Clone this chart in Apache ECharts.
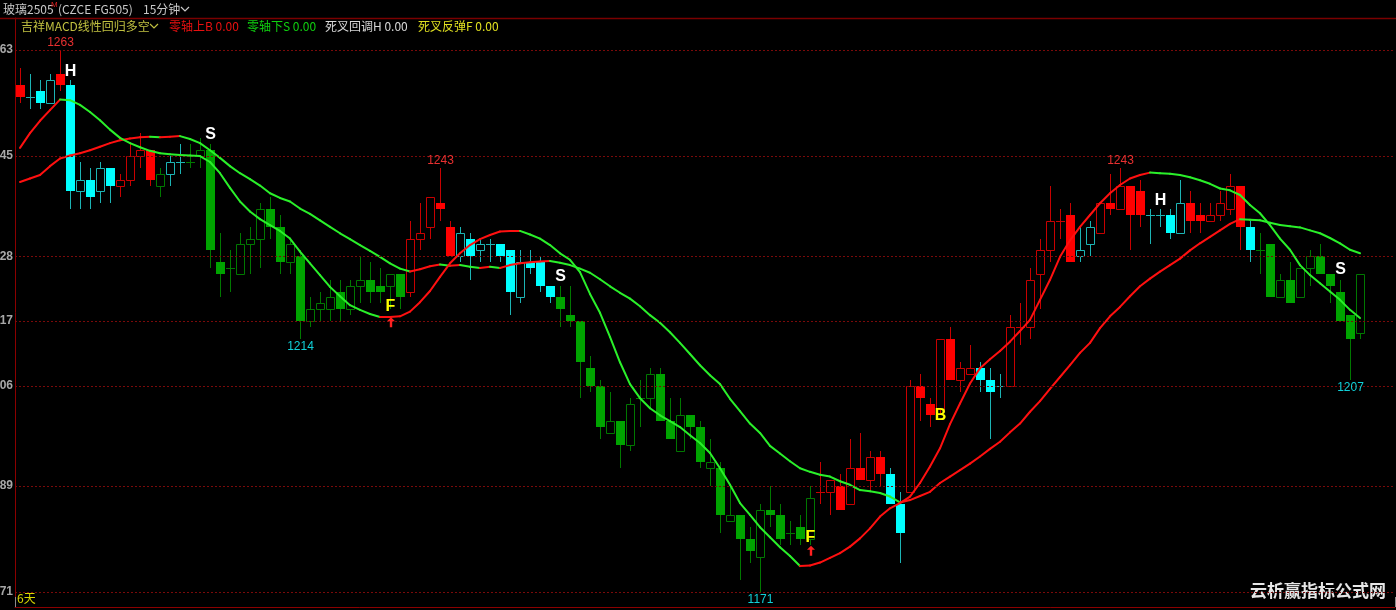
<!DOCTYPE html>
<html><head><meta charset="utf-8">
<script src="https://cdn.jsdelivr.net/npm/echarts@6/dist/echarts.min.js"></script>
<style>html,body{margin:0;padding:0;background:#000;overflow:hidden}#c{width:1396px;height:610px}</style>
</head><body><div id="c"></div>
<script>
// ---------- data ----------
const opens = [1257,1255,1256,1254,1259,1257,1239,1241,1239,1243,
1240,1241,1245,1246,1240,1242,1244,1244,1245,1246,
1227,1226,1225,1230,1231,1236,1233,1227,1228,1217,
1219,1219,1222,1219,1223,1224,1223,1223,1225,1222,
1231,1233,1237,1233,1228,1231,1229,1230,1230,1229,
1221,1227,1227,1223,1221,1218,1217,1209,1206,1198,
1200,1196,1204,1204,1208,1200,1195,1201,1199,1192,
1192,1183,1184,1180,1177,1185,1184,1181,1182,1180,
1188,1188,1189,1186,1192,1190,1194,1191,1186,1188,
1206,1203,1202,1214,1207,1208,1209,1207,1206,1206,
1216,1216,1225,1229,1234,1235,1228,1230,1232,1237,
1236,1240,1239,1235,1235,1235,1232,1237,1235,1234,
1235,1236,1240,1233,1229,1230,1221,1224,1221,1226,
1228,1225,1222,1218,1215];
const closes = [1255,1255,1254,1258,1257,1239,1241,1238,1243,1240,
1241,1245,1246,1241,1242,1244,1244,1244,1246,1229,
1225,1226,1230,1231,1236,1233,1227,1230,1217,1219,
1220,1221,1219,1223,1224,1222,1222,1225,1221,1231,
1232,1238,1236,1228,1232,1228,1230,1230,1228,1222,
1227,1226,1223,1221,1219,1217,1210,1206,1199,1200,
1196,1203,1204,1208,1200,1197,1201,1199,1193,1193,
1184,1184,1180,1178,1185,1184,1180,1181,1180,1187,
1188,1190,1185,1192,1190,1194,1191,1186,1181,1206,
1204,1201,1214,1207,1209,1209,1207,1205,1206,1216,
1216,1224,1229,1234,1234,1227,1229,1233,1237,1236,
1240,1235,1235,1235,1235,1232,1237,1234,1234,1235,
1237,1240,1233,1229,1229,1221,1224,1220,1226,1228,
1225,1223,1217,1214,1225];
const lows = [1254,1253,1253,1254,1256,1236,1236,1236,1237,1237,
1238,1240,1243,1240,1238,1240,1242,1243,1243,1226,
1221,1222,1225,1225,1226,1231,1225,1225,1214,1216,
1217,1217,1217,1218,1220,1220,1220,1219,1219,1221,
1229,1231,1234,1228,1227,1224,1227,1227,1227,1218,
1220,1225,1222,1220,1216,1216,1204,1205,1197,1198,
1192,1195,1199,1202,1200,1197,1195,1197,1192,1189,
1181,1183,1173,1176,1171,1182,1179,1179,1179,1179,
1186,1184,1185,1186,1190,1188,1189,1186,1176,1188,
1200,1199,1201,1207,1205,1208,1205,1197,1204,1206,
1213,1214,1219,1227,1231,1227,1227,1228,1232,1235,
1236,1229,1233,1230,1233,1231,1232,1232,1232,1234,
1234,1235,1229,1227,1225,1221,1221,1220,1221,1223,
1225,1220,1217,1207,1214];
const highs = [1260,1259,1258,1259,1263,1258,1244,1243,1244,1243,
1242,1247,1249,1246,1243,1245,1247,1247,1248,1247,
1232,1229,1232,1233,1237,1238,1235,1231,1229,1221,
1222,1224,1224,1224,1228,1227,1226,1225,1225,1234,
1237,1238,1243,1234,1233,1232,1231,1231,1230,1229,
1229,1229,1228,1223,1223,1223,1217,1211,1207,1205,
1200,1204,1207,1209,1209,1204,1204,1201,1200,1197,
1193,1189,1184,1182,1186,1189,1186,1183,1184,1189,
1193,1190,1191,1197,1198,1195,1195,1192,1188,1207,
1208,1204,1214,1216,1210,1213,1210,1209,1208,1218,
1220,1226,1231,1240,1236,1237,1233,1234,1237,1242,
1243,1240,1241,1236,1236,1236,1241,1239,1237,1237,
1239,1242,1240,1234,1232,1230,1225,1227,1226,1229,
1230,1225,1224,1218,1225];
// indicator state of each bar: r = above zero, c = pullback, g = below zero
const candleGroups = ['r','c','c','c','r','c','c','c','c','c',
'r','r','r','r','g','c','c','g','g','g',
'g','g','g','g','g','g','g','g','g','g',
'g','g','g','g','g','g','g','g','g','r',
'r','r','r','r','c','c','c','c','c','c',
'c','c','c','c','g','g','g','g','g','g',
'g','g','g','g','g','g','g','g','g','g',
'g','g','g','g','g','g','g','g','g','g',
'r','r','r','r','r','r','r','c','c','r',
'r','r','r','r','r','r','c','c','c','r',
'r','r','r','r','r','r','c','c','r','r',
'r','r','r','c','c','c','c','r','r','r',
'r','r','r','c','g','g','g','g','g','g',
'g','g','g','g','g'];
const fastLine = [1246.4,1248.9,1251.0,1252.8,1254.6,1254.5,1253.7,1252.5,1251.1,1249.5,
1248.1,1247.2,1246.5,1245.9,1245.5,1245.3,1245.2,1245.1,1245.0,1244.0,
1242.1,1239.6,1237.3,1235.6,1234.3,1233.3,1232.3,1231.0,1228.8,1226.8,
1224.8,1222.8,1221.2,1219.7,1218.9,1218.2,1217.7,1217.7,1217.8,1218.6,
1220.2,1222.1,1224.5,1226.8,1228.5,1229.9,1230.9,1231.6,1232.2,1232.3,
1232.3,1231.7,1231.0,1229.9,1228.5,1227.4,1225.3,1221.6,1218.4,1214.3,
1210.0,1206.3,1203.9,1202.2,1201.0,1200.0,1199.0,1197.6,1196.3,1194.6,
1192.0,1189.2,1186.1,1184.1,1182.0,1180.3,1178.6,1177.1,1175.4,1175.5,
1176.0,1176.8,1177.6,1178.7,1180.1,1181.8,1183.8,1185.2,1186.1,1187.2,
1189.5,1192.3,1195.4,1199.5,1203.0,1206.4,1209.0,1210.5,1211.9,1213.5,
1215.3,1217.2,1220.6,1224.0,1227.9,1230.7,1233.0,1235.0,1237.0,1238.7,
1240.1,1241.2,1241.8,1242.2,1242.1,1242.0,1241.8,1241.4,1240.9,1240.3,
1239.5,1239.2,1238.4,1236.7,1235.3,1233.3,1231.0,1229.1,1226.5,1224.8,
1223.4,1222.0,1220.6,1218.9,1217.5];
const slowLine = [1240.6,1241.2,1241.8,1243.3,1244.6,1245.1,1245.5,1246.0,1246.6,1247.2,
1247.7,1248.0,1248.2,1248.3,1248.2,1248.3,1248.4,1247.9,1247.2,1246.0,
1244.7,1243.3,1242.1,1241.1,1240.0,1238.7,1237.9,1237.3,1236.1,1235.2,
1234.1,1233.0,1231.9,1230.9,1229.9,1228.9,1227.9,1226.8,1225.9,1225.4,
1225.8,1226.3,1226.6,1226.4,1226.5,1226.2,1226.0,1226.2,1226.0,1226.5,
1226.8,1227.0,1227.1,1227.2,1226.9,1226.5,1225.9,1225.2,1224.1,1222.9,
1221.8,1220.8,1219.5,1218.0,1216.7,1215.1,1213.3,1211.4,1209.5,1207.8,
1206.3,1203.8,1201.7,1199.6,1198.0,1195.8,1194.5,1193.2,1192.0,1191.4,
1190.9,1190.6,1189.8,1189.2,1188.3,1188.1,1187.8,1187.2,1186.2,1186.6,
1187.3,1188.0,1189.5,1190.6,1191.7,1192.8,1194.0,1195.3,1196.5,1198.1,
1199.6,1201.6,1203.4,1205.5,1207.5,1209.5,1211.6,1213.3,1215.8,1217.8,
1219.4,1221.2,1222.9,1224.2,1225.4,1226.5,1227.6,1229.0,1230.2,1231.3,
1232.4,1233.5,1234.3,1234.2,1234.1,1233.7,1233.3,1233.1,1232.9,1232.4,
1231.9,1231.1,1230.2,1229.1,1228.5];
const gridValues = [1263,1245,1228,1217,1206,1189,1171];
const highLabelIdx = [4,42,110];
const lowLabelIdx = [28,74,133];
const signalIdx = [5,19,37,54,79,92,114,132];
const signalVal = [1259.3,1248.7,1219.5,1224.6,1180.3,1200.9,1237.5,1225.7];
const signalText = ['H','S','F','S','F','B','H','S'];
const arrowIdx = [37,79];
const arrowVal = [1216.8,1178.0];
const categories = Array.from({length: opens.length + 3}, (_, i) => String(i));

// ---------- styling ----------
const palette = {
  r: {fill:'#ff0000', line:'#c80000'},
  c: {fill:'#00ffff', line:'#1cb4b4'},
  g: {fill:'#00a400', line:'#007800'}
};
const signalColor = {H:'#ffffff', S:'#ffffff', F:'#ffff00', B:'#ffff00'};
const CJK = '"Noto Sans CJK SC", "Liberation Sans", sans-serif';
const LAT = '"Liberation Sans", Arial, sans-serif';

function renderCandle(params, api) {
  const i = api.value(0), o = api.value(1), c = api.value(2), l = api.value(3), h = api.value(4);
  const pal = palette[candleGroups[params.dataIndex]];
  const xp = Math.round(api.coord([i, o])[0]);
  const xm = xp + 0.5;
  const yO = Math.round(api.coord([i, o])[1]);
  const yC = Math.round(api.coord([i, c])[1]);
  const yL = Math.round(api.coord([i, l])[1]);
  const yH = Math.round(api.coord([i, h])[1]);
  const top = Math.min(yO, yC), bot = Math.max(yO, yC);
  const ch = [];
  const ln = (x1, y1, x2, y2, col) => ({type:'line', shape:{x1, y1, x2, y2}, style:{stroke:col, lineWidth:1}});
  if (c > o) {
    if (yH < top) ch.push(ln(xm, yH, xm, top, pal.line));
    if (yL > bot) ch.push(ln(xm, bot, xm, yL, pal.line));
    ch.push({type:'rect', shape:{x:xp - 4 + 0.5, y:top + 0.5, width:8, height:Math.max(bot - top, 1)},
             style:{fill:'#000', stroke:pal.line, lineWidth:1}});
  } else if (c < o) {
    ch.push(ln(xm, yH, xm, yL, pal.line));
    ch.push({type:'rect', shape:{x:xp - 4, y:top, width:9, height:Math.max(bot - top, 1)},
             style:{fill:pal.fill}});
  } else {
    ch.push(ln(xm, yH, xm, yL, pal.line));
    ch.push(ln(xp - 4, yO + 0.5, xp + 5, yO + 0.5, pal.line));
  }
  return {type:'group', children:ch};
}
function renderSeg(params, api) {
  const p0 = api.coord([api.value(0) - 1, api.value(1)]);
  const p1 = api.coord([api.value(0), api.value(2)]);
  const up = api.value(2) >= api.value(1);
  return {type:'line', shape:{x1:p0[0], y1:p0[1], x2:p1[0], y2:p1[1]},
          style:{stroke: up ? '#ff1010' : '#2af02a', lineWidth:2, lineCap:'round'}};
}
const segData = arr => arr.slice(1).map((v, k) => [k + 1, arr[k], v]);

const chart = echarts.init(document.getElementById('c'), null, {renderer:'canvas'});
chart.setOption({
  backgroundColor:'#000',
  animation:false,
  grid:{left:15, right:1, top:18, bottom:3, containLabel:false},
  xAxis:{type:'category', data:categories, boundaryGap:true,
    axisLine:{show:true, lineStyle:{color:'#8b0000', width:1}},
    axisTick:{show:true, inside:true, length:10, interval:(idx) => idx === 112, lineStyle:{color:'#8c8c8c'}},
    axisLabel:{show:false}, splitLine:{show:false}},
  yAxis:{type:'value', min:1168.45, max:1268.45, position:'left',
    axisLine:{show:true, lineStyle:{color:'#8b0000', width:1}},
    axisTick:{show:false}, axisLabel:{show:false}, splitLine:{show:false}},
  graphic:[
    {type:'line', shape:{x1:0, y1:18.5, x2:1396, y2:18.5}, style:{stroke:'#7a0000', lineWidth:1.5}, z:10},
    {type:'text', x:3, y:9, style:{text:'玻璃2505', fill:'#c8c8c8', font:'12px ' + CJK, verticalAlign:'middle'}},
    {type:'text', x:51, y:5, style:{text:'M', fill:'#e02020', font:'8px ' + LAT, verticalAlign:'middle'}},
    {type:'text', x:58, y:9, style:{text:'(CZCE FG505)', fill:'#c8c8c8', font:'12px ' + CJK, verticalAlign:'middle'}},
    {type:'text', x:143, y:9, style:{text:'15分钟', fill:'#c8c8c8', font:'12px ' + CJK, verticalAlign:'middle'}},
    {type:'polyline', shape:{points:[[181,7],[185,11],[189,7]]}, style:{stroke:'#c8c8c8', lineWidth:1.2, fill:null}},
    {type:'text', x:21, y:26, style:{text:'吉祥MACD线性回归多空', fill:'#c0c040', font:'12px ' + CJK, verticalAlign:'middle'}},
    {type:'polyline', shape:{points:[[150,24],[154,28],[158,24]]}, style:{stroke:'#c0c040', lineWidth:1.2, fill:null}},
    {type:'text', x:169, y:26, style:{text:'零轴上B 0.00', fill:'#e81010', font:'12px ' + CJK, verticalAlign:'middle'}},
    {type:'text', x:247, y:26, style:{text:'零轴下S 0.00', fill:'#10d010', font:'12px ' + CJK, verticalAlign:'middle'}},
    {type:'text', x:325, y:26, style:{text:'死叉回调H 0.00', fill:'#d8d8d8', font:'12px ' + CJK, verticalAlign:'middle'}},
    {type:'text', x:418, y:26, style:{text:'死叉反弹F 0.00', fill:'#e0e020', font:'12px ' + CJK, verticalAlign:'middle'}},
    {type:'text', x:17, y:598, style:{text:'6天', fill:'#d8d800', font:'12px ' + CJK, verticalAlign:'middle'}},
    {type:'text', x:1386, y:591, style:{text:'云析赢指标公式网', fill:'#e6e6e6', font:'bold 17px ' + CJK, align:'right', verticalAlign:'middle'}}
  ],
  series:[
    {type:'line', data:closes, z:1, silent:true, showSymbol:false, lineStyle:{opacity:0},
     markLine:{silent:true, symbol:'none', animation:false,
       lineStyle:{color:'#7a0a0a', type:[2,2], width:1},
       label:{show:true, position:'start', distance:2, color:'#a8a8a8', fontSize:12, fontWeight:'bold', fontFamily:LAT,
              formatter:p => String(p.value).slice(-2)},
       emphasis:{disabled:true},
       data:gridValues.map(v => ({yAxis:v}))}},
    {type:'custom', z:3, clip:false, renderItem:renderCandle, encode:{x:0, y:[1,2,3,4]},
     data:opens.map((o, i) => [i, o, closes[i], lows[i], highs[i]])},
    {type:'custom', z:4, renderItem:renderSeg, encode:{x:0, y:[1,2]}, data:segData(slowLine)},
    {type:'custom', z:5, renderItem:renderSeg, encode:{x:0, y:[1,2]}, data:segData(fastLine)},
    {type:'custom', z:6, clip:false, encode:{x:0, y:1},
     data:highLabelIdx.map(i => [i, highs[i]]),
     renderItem:(p, api) => { const pt = api.coord([api.value(0), api.value(1)]);
       return {type:'text', x:pt[0] + 0.5, y:pt[1] - 7, style:{text:String(api.value(1)), fill:'#e83030', font:'12px ' + LAT, align:'center', verticalAlign:'middle'}}; }},
    {type:'custom', z:6, clip:false, encode:{x:0, y:1},
     data:lowLabelIdx.map(i => [i, lows[i]]),
     renderItem:(p, api) => { const pt = api.coord([api.value(0), api.value(1)]);
       return {type:'text', x:pt[0] + 0.5, y:pt[1] + 8, style:{text:String(api.value(1)), fill:'#10d0d8', font:'12px ' + LAT, align:'center', verticalAlign:'middle'}}; }},
    {type:'custom', z:7, clip:false, encode:{x:0, y:1},
     data:signalIdx.map((i, k) => [i, signalVal[k]]),
     renderItem:(p, api) => { const pt = api.coord([api.value(0), api.value(1)]);
       const t = signalText[p.dataIndex];
       return {type:'text', x:pt[0] + 0.5, y:pt[1], style:{text:t, fill:signalColor[t], font:'bold 16px ' + LAT, align:'center', verticalAlign:'middle'}}; }},
    {type:'custom', z:7, clip:false, encode:{x:0, y:1},
     data:arrowIdx.map((i, k) => [i, arrowVal[k]]),
     renderItem:(p, api) => { const pt = api.coord([api.value(0), api.value(1)]);
       const x = pt[0] + 1, y = pt[1];
       return {type:'polygon', shape:{points:[[x, y - 5],[x + 4, y - 1],[x + 1.2, y - 1],[x + 1.2, y + 5],[x - 1.2, y + 5],[x - 1.2, y - 1],[x - 4, y - 1]]},
               style:{fill:'#ff2020'}}; }}
  ]
});
</script>
</body></html>
